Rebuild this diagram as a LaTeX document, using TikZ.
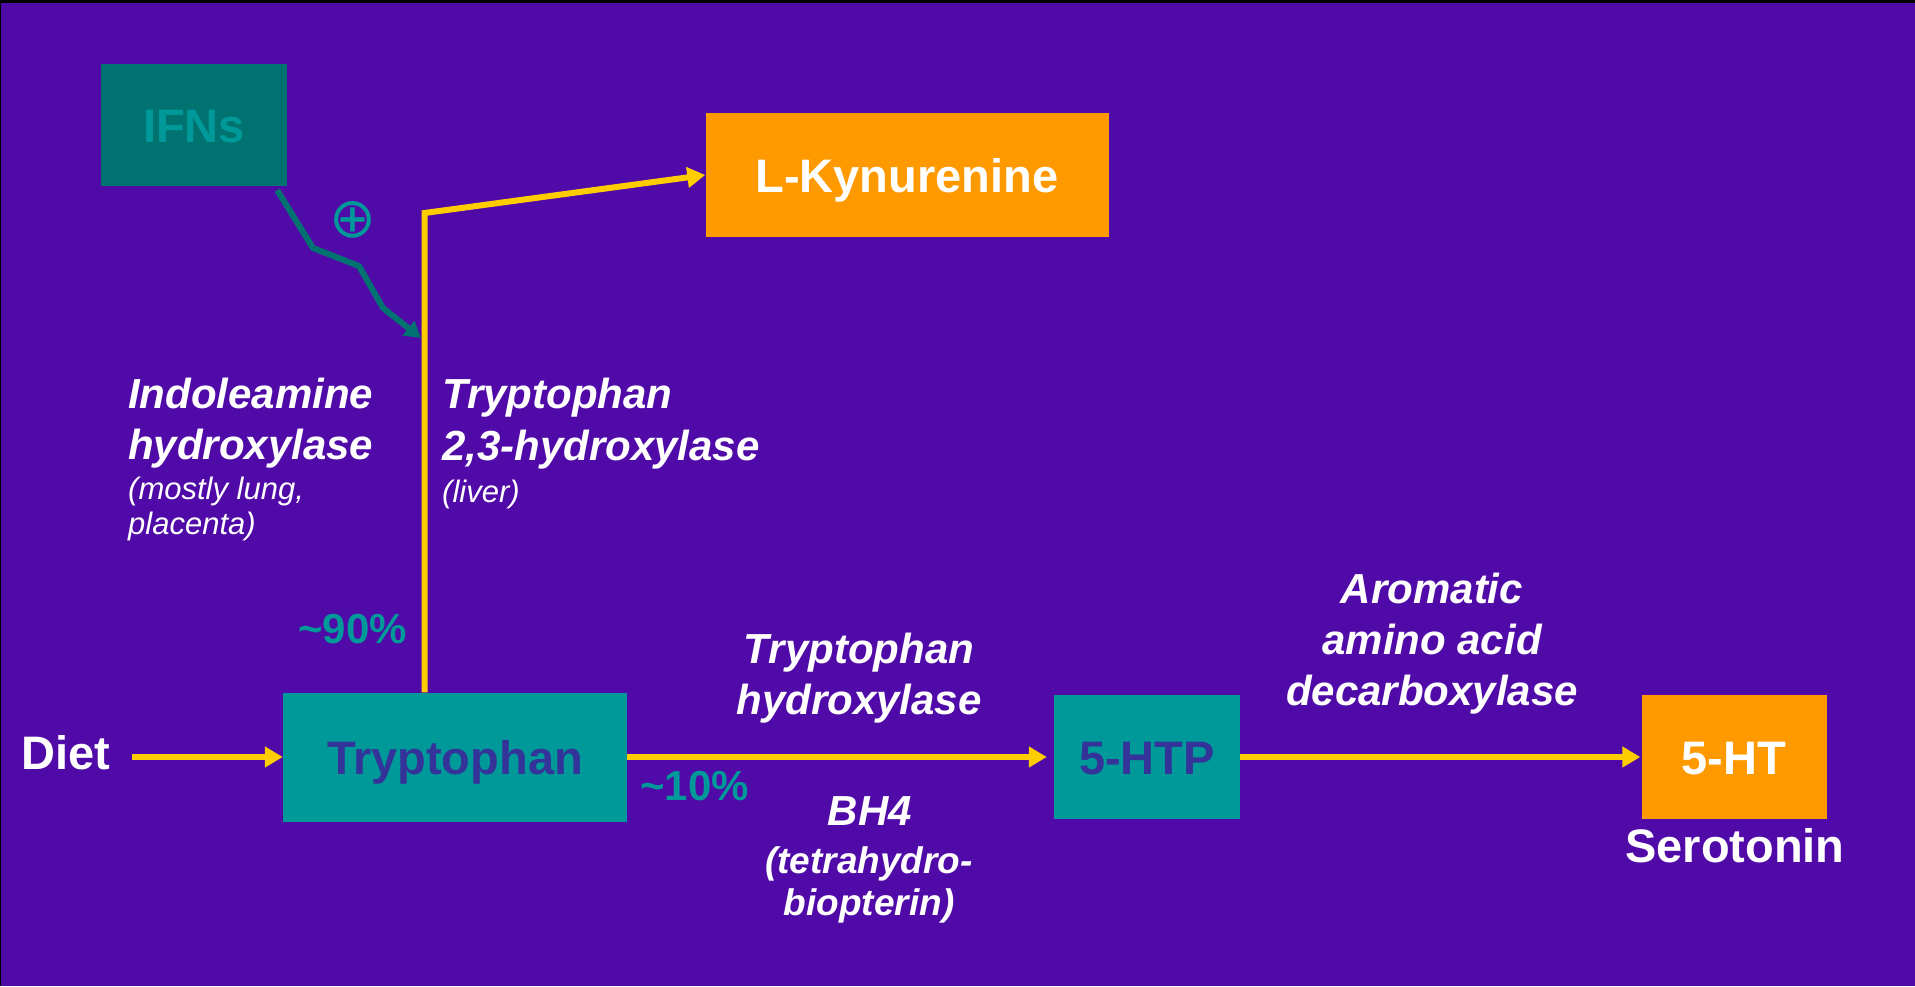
\documentclass[tikz,border=0pt]{standalone}
\usepackage{fontspec}
\setmainfont{Liberation Sans}
\newfontfamily\signfont{DejaVu Sans}
\usetikzlibrary{arrows.meta}
\definecolor{bgpurple}{RGB}{80,10,168}
\definecolor{tealbox}{RGB}{0,153,153}
\definecolor{tealdark}{RGB}{0,115,113}
\definecolor{orangebox}{RGB}{255,153,0}
\definecolor{flowyellow}{RGB}{255,204,0}
\definecolor{navytext}{RGB}{51,51,153}

\begin{document}
\begin{tikzpicture}[x=1pt,y=-1pt,
	box/.style={rectangle,text height=34pt,text depth=0pt,font=\bfseries\fontsize{47}{56}\selectfont},
	enz/.style={text=white,font=\bfseries\itshape\fontsize{42}{51}\selectfont},
	site/.style={text=white,align=left,font=\itshape\fontsize{31}{35}\selectfont},
	pct/.style={text=tealbox,font=\bfseries\fontsize{42}{50}\selectfont},
	flow/.style={flowyellow,line width=6pt,-{Triangle[length=18pt,width=20pt]}},
	ifnflow/.style={tealdark,line width=6pt,line join=round,-{Triangle[length=16pt,width=18pt]}}]
	\tikzstyle{every node}+=[inner sep=0pt]
	\useasboundingbox (0,0) rectangle (1915,986);
	\fill [black] (0,0) rectangle (1915,986);
	\fill [bgpurple] (1,3) rectangle (1915,986);
	% boxes
	\node [box,fill=tealdark,text=tealbox,minimum width=186pt,minimum height=122pt] (ifns) at (194,125) {IFNs};
	\node [box,fill=orangebox,text=white,minimum width=403pt,minimum height=124pt] (kyn) at (907,175) {L-Kynurenine};
	\node [box,fill=tealbox,text=navytext,minimum width=344pt,minimum height=129pt] (trp) at (455,757) {Tryptophan};
	\node [box,fill=tealbox,text=navytext,minimum width=186pt,minimum height=124pt] (htp) at (1147,757) {5-HTP};
	\node [box,fill=orangebox,text=white,minimum width=185pt,minimum height=124pt] (ht) at (1734,757) {5-HT};
	\node [anchor=base,text=white,font=\bfseries\fontsize{47}{56}\selectfont] (sero) at (1735,862) {Serotonin};
	\node [anchor=base west,text=white,font=\bfseries\fontsize{47}{56}\selectfont] (diet) at (21,769) {Diet};
	% enzymes
	\node [enz,align=left,anchor=north west] (ido) at (128,378) {Indoleamine\\hydroxylase};
	\node [site,anchor=north west] (idosite) at (128,477) {(mostly lung,\\placenta)};
	\node [enz,align=left,anchor=north west,font=\bfseries\itshape\fontsize{42}{52}\selectfont] (tdo) at (442,378) {Tryptophan\\2,3-hydroxylase};
	\node [site,anchor=north west] (tdosite) at (442,480) {(liver)};
	\node [enz,align=center,anchor=north] (tph) at (859,633) {Tryptophan\\hydroxylase};
	\node [enz,anchor=north] (bh4) at (870,796) {BH4};
	\node [enz,align=center,anchor=north,font=\bfseries\itshape\fontsize{37}{42}\selectfont] (bh4name) at (869,846) {(tetrahydro-\\biopterin)};
	\node [enz,align=center,anchor=north] (aadc) at (1432,573) {Aromatic\\amino acid\\decarboxylase};
	% shares
	\node [pct,anchor=base west] (share90) at (298,643) {\textasciitilde 90\%};
	\node [pct,anchor=base west] (share10) at (640,800) {\textasciitilde 10\%};
	\node [text=tealbox,font=\signfont\fontsize{56}{56}\selectfont] (plus) at (353,220) {⊕};
	% arrows
	\coordinate (turn) at (424.5,213);
	\coordinate (ifnhit) at (421,338);
	\draw [flow] ([xshift=22pt]diet.east |- trp.west) -- (trp.west);
	\draw [flow,shorten >=7pt] (trp.east) -- (htp.west);
	\draw [flow,shorten >=1pt] (htp.east) -- (ht.west);
	\draw [flow,line join=miter] (trp.north -| turn) -- (turn) -- (kyn.west);
	\draw [ifnflow] ([xshift=-10pt,yshift=-4pt]ifns.south east) -- (313,248) -- (359,266) -- (383,308) -- (ifnhit);
\end{tikzpicture}
\end{document}
